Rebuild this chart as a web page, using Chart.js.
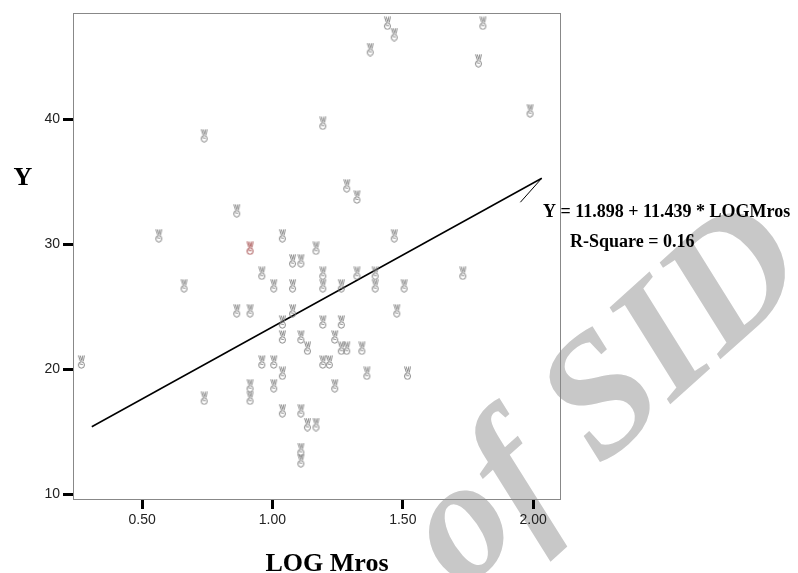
<!DOCTYPE html>
<html>
<head>
<meta charset="utf-8">
<script src="https://cdn.jsdelivr.net/npm/chart.js@4"></script>
<style>
  body { margin: 0; background: #fff; }
  #wrap { width: 798px; height: 573px; }
</style>
</head>
<body>
<div id="wrap"><canvas id="chart" width="798" height="573"></canvas></div>
<script>
// scatter values (LOG Mros, Y)
const logMros = [
    0.267, 0.564, 0.661, 0.738, 0.738, 0.863, 0.863, 0.914, 0.914, 0.914,
    0.959, 0.959, 1.005, 1.005, 1.005, 1.038, 1.038, 1.038, 1.038, 1.038,
    1.077, 1.077, 1.077, 1.109, 1.109, 1.109, 1.109, 1.109, 1.134, 1.134,
    1.167, 1.167, 1.193, 1.193, 1.193, 1.193, 1.193, 1.218, 1.239, 1.239,
    1.264, 1.264, 1.264, 1.285, 1.285, 1.324, 1.324, 1.343, 1.362, 1.375,
    1.394, 1.394, 1.441, 1.467, 1.467, 1.477, 1.505, 1.518, 1.730, 1.790,
    1.807, 1.988
];
const yValues = [
    20.6, 30.7, 26.7, 38.7, 17.7, 32.7, 24.7, 24.7, 18.7, 17.7,
    27.7, 20.6, 26.7, 20.6, 18.7, 30.7, 23.8, 22.6, 19.7, 16.7,
    28.7, 26.7, 24.7, 28.7, 22.6, 16.7, 13.6, 12.7, 21.7, 15.6,
    29.7, 15.6, 39.7, 27.7, 26.7, 23.8, 20.6, 20.6, 22.6, 18.7,
    26.7, 23.8, 21.7, 34.7, 21.7, 33.8, 27.7, 21.7, 19.7, 45.6,
    27.7, 26.7, 47.7, 46.8, 30.7, 24.7, 26.7, 19.7, 27.7, 44.7,
    47.7, 40.7
];
// the one highlighted (red) case
const markedX = [0.914];
const markedY = [29.7];

// fitted line and the little stroke at its end
const fitX = [0.307, 2.033];
const fitY = [15.42, 35.30];
const tailX = [1.951, 2.033];
const tailY = [33.38, 35.30];

const xTicks = [0.5, 1.0, 1.5, 2.0];
const yTicks = [10, 20, 30, 40];

const equationText = 'Y = 11.898 + 11.439 * LOGMros';
const rSquareText = 'R-Square = 0.16';

function toPoints(xs, ys) {
    return xs.map((x, i) => ({ x: x, y: ys[i] }));
}

// little "victory hand" marker like the SPSS one (the font glyph isn't installed)
function makeMarker(color) {
    const c = document.createElement('canvas');
    c.width = 9;
    c.height = 14;
    const g = c.getContext('2d');
    g.strokeStyle = color;
    g.lineWidth = 0.9;
    // two fingers
    g.beginPath();
    g.moveTo(1.5, 0.5); g.lineTo(3.5, 6.5);
    g.moveTo(3.2, 0.5); g.lineTo(4.8, 5.5);
    g.moveTo(5.8, 0.5); g.lineTo(4.8, 5.5);
    g.moveTo(7.5, 0.5); g.lineTo(6.2, 6.5);
    g.stroke();
    // palm
    g.beginPath();
    g.ellipse(4.5, 10, 3, 3.2, 0, 0, Math.PI * 2);
    g.stroke();
    g.beginPath();
    g.moveTo(2.5, 8.8); g.lineTo(5.8, 9.6);
    g.stroke();
    return c;
}
const grayMark = makeMarker('#7a7a7a');
const redMark = makeMarker('#9c3c3c');

const decorPlugin = {
    id: 'decor',
    beforeDraw(chart) {
        const ctx = chart.ctx;
        // watermark
        ctx.save();
        ctx.translate(462, 592);
        ctx.rotate(-42 * Math.PI / 180);
        ctx.fillStyle = '#c8c8c8';
        ctx.font = 'italic bold 172px "Liberation Serif"';
        ctx.textBaseline = 'alphabetic';
        ctx.fillText('of SID', 0, 0);
        ctx.restore();
    },
    afterDraw(chart) {
        const ctx = chart.ctx;
        const a = chart.chartArea;
        ctx.save();
        ctx.strokeStyle = '#888';
        ctx.lineWidth = 1;
        ctx.strokeRect(a.left + 0.5, a.top + 0.5, a.right - a.left, a.bottom - a.top);

        ctx.fillStyle = '#000';
        ctx.textBaseline = 'alphabetic';
        ctx.font = 'bold 26px "Liberation Serif"';
        ctx.textAlign = 'center';
        ctx.fillText('LOG Mros', 327, 571);
        ctx.fillText('Y', 23, 185);

        ctx.font = 'bold 18px "Liberation Serif"';
        ctx.textAlign = 'left';
        ctx.fillText(equationText, 543, 217);
        ctx.fillText(rSquareText, 570, 247);
        ctx.restore();
    }
};

new Chart(document.getElementById('chart'), {
    type: 'scatter',
    data: {
        datasets: [
            {
                label: 'Y',
                data: toPoints(logMros, yValues),
                pointStyle: grayMark,
                showLine: false
            },
            {
                label: 'marked',
                data: toPoints(markedX, markedY),
                pointStyle: redMark,
                showLine: false
            },
            {
                label: 'fit',
                data: toPoints(fitX, fitY),
                showLine: true,
                borderColor: '#000',
                borderWidth: 1.5,
                pointRadius: 0
            },
            {
                label: 'tail',
                data: toPoints(tailX, tailY),
                showLine: true,
                borderColor: '#000',
                borderWidth: 1,
                pointRadius: 0
            }
        ]
    },
    options: {
        responsive: false,
        animation: false,
        layout: { padding: { top: 13, right: 238, bottom: 0, left: 0 } },
        plugins: {
            legend: { display: false },
            tooltip: { enabled: false }
        },
        scales: {
            x: {
                type: 'linear',
                min: 0.235,
                max: 2.103,
                afterBuildTicks: (scale) => { scale.ticks = xTicks.map(v => ({ value: v })); },
                afterFit: (scale) => { scale.height = 74; },
                grid: {
                    drawOnChartArea: false,
                    tickLength: 10,
                    tickWidth: 3,
                    tickColor: '#000'
                },
                border: { color: '#888', width: 1 },
                ticks: {
                    color: '#222',
                    padding: 3,
                    font: { family: '"Liberation Sans"', size: 14 },
                    callback: (v) => v.toFixed(2)
                }
            },
            y: {
                type: 'linear',
                min: 9.64,
                max: 48.52,
                afterBuildTicks: (scale) => { scale.ticks = yTicks.map(v => ({ value: v })); },
                afterFit: (scale) => { scale.width = 73; },
                grid: {
                    drawOnChartArea: false,
                    tickLength: 10,
                    tickWidth: 3,
                    tickColor: '#000'
                },
                border: { color: '#888', width: 1 },
                ticks: {
                    color: '#222',
                    padding: 3,
                    font: { family: '"Liberation Sans"', size: 14 },
                    callback: (v) => String(v)
                }
            }
        }
    },
    plugins: [decorPlugin]
});
</script>
</body>
</html>
